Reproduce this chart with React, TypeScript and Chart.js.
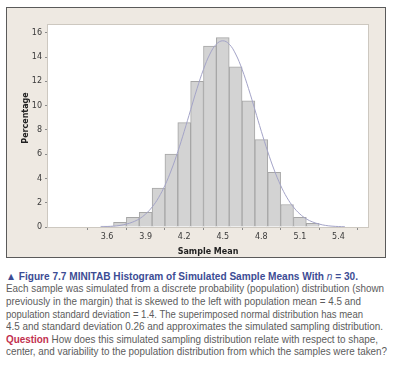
import React, { useEffect, useLayoutEffect, useRef } from "react";
import { Chart, registerables } from "chart.js";

Chart.register(...registerables);

// Histogram bins (bin centres, width 0.1) and bar heights in percent
const binCenters = [3.6, 3.7, 3.8, 3.9, 4.0, 4.1, 4.2, 4.3, 4.4, 4.5, 4.6, 4.7, 4.8, 4.9, 5.0, 5.1, 5.2];
const percentages = [0.08, 0.38, 0.8, 1.2, 3.2, 6.0, 8.6, 12.0, 14.9, 15.6, 13.2, 10.4, 7.2, 4.5, 1.85, 0.8, 0.3];

// Superimposed normal curve
const curveX = [
  3.55, 3.6, 3.65, 3.7, 3.75, 3.8, 3.85, 3.9, 3.95, 4.0, 4.05, 4.1, 4.15, 4.2, 4.25, 4.3, 4.35, 4.4, 4.45,
  4.5, 4.55, 4.6, 4.65, 4.7, 4.75, 4.8, 4.85, 4.9, 4.95, 5.0, 5.05, 5.1, 5.15, 5.2, 5.25, 5.3, 5.35, 5.4, 5.45,
];
const curveY = [
  0.02, 0.04, 0.07, 0.13, 0.24, 0.41, 0.67, 1.07, 1.64, 2.41, 3.43, 4.7, 6.2, 7.88, 9.66, 11.41, 12.99, 14.25, 15.06,
  15.34, 15.06, 14.25, 12.99, 11.41, 9.66, 7.88, 6.2, 4.7, 3.43, 2.41, 1.64, 1.07, 0.67, 0.41, 0.24, 0.13, 0.07, 0.04, 0.02,
];

const xTickValues = [3.6, 3.9, 4.2, 4.5, 4.8, 5.1, 5.4];
const yTickValues = [0, 2, 4, 6, 8, 10, 12, 14, 16];

const xTitle = "Sample Mean";
const yTitle = "Percentage";

const captionTargets = [352, 378, 355, 357, 377, 372, 381];

const tickFont = { family: "DejaVu Sans", size: 8 };
const titleFont = { family: "DejaVu Sans", size: 8, weight: "bold" as const };

const plotFrame = {
  id: "plotFrame",
  beforeDraw(chart: any) {
    const { ctx, chartArea: a } = chart;
    ctx.save();
    ctx.fillStyle = "#ffffff";
    ctx.fillRect(a.left, a.top, a.right - a.left, a.bottom - a.top);
    ctx.restore();
  },
  afterDraw(chart: any) {
    const { ctx, chartArea: a } = chart;
    ctx.save();
    ctx.strokeStyle = "#cdc8c0";
    ctx.lineWidth = 1;
    ctx.strokeRect(Math.round(a.left) - 0.5, Math.round(a.top) - 0.5, Math.round(a.right - a.left) + 1, Math.round(a.bottom - a.top) + 1);
    // y-axis title
    ctx.fillStyle = "#222";
    ctx.font = "bold 8px 'DejaVu Sans'";
    ctx.textAlign = "center";
    ctx.textBaseline = "middle";
    ctx.translate(19, 110);
    ctx.rotate(-Math.PI / 2);
    ctx.fillText(yTitle, 0, 0);
    ctx.restore();
  },
};

function ChartPanel() {
  const ref = useRef<HTMLCanvasElement | null>(null);
  useEffect(() => {
    if (!ref.current) return;
    const bars = binCenters.map((x, i) => ({ x, y: percentages[i] }));
    const curve = curveX.map((x, i) => ({ x, y: curveY[i] }));
    const chart = new Chart(ref.current, {
      type: "bar",
      data: {
        datasets: [
          {
            type: "line",
            data: curve,
            borderColor: "#a4a4c8",
            borderWidth: 1,
            pointRadius: 0,
            tension: 0.4,
            fill: false,
            order: 0,
          } as any,
          {
            type: "bar",
            data: bars,
            backgroundColor: "#d3d3d3",
            borderColor: "#a6a6a6",
            borderWidth: 1,
            barPercentage: 1,
            categoryPercentage: 1,
            order: 1,
          } as any,
        ],
      },
      options: {
        animation: false,
        responsive: false,
        maintainAspectRatio: false,
        layout: { padding: { top: 17, right: 17, left: 0, bottom: 0 } },
        plugins: { legend: { display: false }, tooltip: { enabled: false } },
        scales: {
          x: {
            type: "linear",
            min: 3.318,
            max: 5.452,
            afterBuildTicks: (s: any) => {
              s.ticks = xTickValues.map((v) => ({ value: v }));
            },
            afterFit: (s: any) => {
              s.height = 30;
            },
            ticks: {
              callback: (v: any) => Number(v).toFixed(1),
              font: tickFont,
              color: "#3a3a3a",
              padding: 2,
              maxRotation: 0,
              autoSkip: false,
            },
            grid: { drawOnChartArea: false, tickLength: 3, color: "#8a8a8a" },
            border: { display: false },
            title: { display: true, text: xTitle, font: titleFont, color: "#222", padding: { top: 1, bottom: 0 } },
          },
          y: {
            type: "linear",
            min: 0,
            max: 16.64,
            afterBuildTicks: (s: any) => {
              s.ticks = yTickValues.map((v) => ({ value: v }));
            },
            afterFit: (s: any) => {
              s.width = 41;
            },
            ticks: { font: tickFont, color: "#3a3a3a", padding: 3 },
            grid: { drawOnChartArea: false, tickLength: 3, color: "#8a8a8a" },
            border: { display: false },
            title: { display: false },
          },
        },
      },
      plugins: [plotFrame],
    });
    return () => chart.destroy();
  }, []);
  return <canvas ref={ref} width={378} height={249} style={{ display: "block", width: 378, height: 249 }} />;
}

function Caption() {
  const lineRefs = useRef<(HTMLSpanElement | null)[]>([]);
  useLayoutEffect(() => {
    lineRefs.current.forEach((el, i) => {
      if (!el) return;
      el.style.transform = "none";
      const w = el.getBoundingClientRect().width;
      if (w > 0) el.style.transform = `scaleX(${captionTargets[i] / w})`;
    });
  }, []);
  const blue = "#3c4c94";
  const gray = "#5c5c5c";
  const red = "#c2304e";
  const lineStyle: React.CSSProperties = {
    display: "inline-block",
    whiteSpace: "nowrap",
    transformOrigin: "left center",
  };
  const setRef = (i: number) => (el: HTMLSpanElement | null) => {
    lineRefs.current[i] = el;
  };
  return (
    <div
      style={{
        position: "absolute",
        left: 6,
        top: 270,
        fontFamily: "'Liberation Sans', Arial, sans-serif",
        fontSize: 10.2,
        lineHeight: "12.6px",
        color: gray,
      }}
    >
      <div style={{ height: 13.4 }}>
        <span ref={setRef(0)} style={{ ...lineStyle, color: blue, fontSize: 10.6 }}>
          <span style={{ fontWeight: "bold" }}>▲ Figure 7.7</span>
          <span style={{ fontWeight: 600 }}>
            {"  "}MINITAB Histogram of Simulated Sample Means With <i style={{ fontWeight: "normal" }}>n</i> = 30.
          </span>
        </span>
      </div>
      <div>
        <span ref={setRef(1)} style={lineStyle}>
          Each sample was simulated from a discrete probability (population) distribution (shown
        </span>
      </div>
      <div>
        <span ref={setRef(2)} style={lineStyle}>
          previously in the margin) that is skewed to the left with population mean = 4.5 and
        </span>
      </div>
      <div>
        <span ref={setRef(3)} style={lineStyle}>
          population standard deviation = 1.4. The superimposed normal distribution has mean
        </span>
      </div>
      <div>
        <span ref={setRef(4)} style={lineStyle}>
          4.5 and standard deviation 0.26 and approximates the simulated sampling distribution.
        </span>
      </div>
      <div>
        <span ref={setRef(5)} style={lineStyle}>
          <span style={{ color: red, fontWeight: "bold" }}>Question</span> How does this simulated sampling
          distribution relate with respect to shape,
        </span>
      </div>
      <div>
        <span ref={setRef(6)} style={lineStyle}>
          center, and variability to the population distribution from which the samples were taken?
        </span>
      </div>
    </div>
  );
}

export default function App() {
  return (
    <div
      style={{
        position: "fixed",
        left: 0,
        top: 0,
        width: 393,
        height: 365,
        background: "#ffffff",
        overflow: "hidden",
      }}
    >
      <div
        style={{
          position: "absolute",
          left: 6,
          top: 7,
          width: 378,
          height: 249,
          border: "1px solid #5a5a5a",
          background: "#eee9e2",
        }}
      >
        <ChartPanel />
      </div>
      <Caption />
    </div>
  );
}
